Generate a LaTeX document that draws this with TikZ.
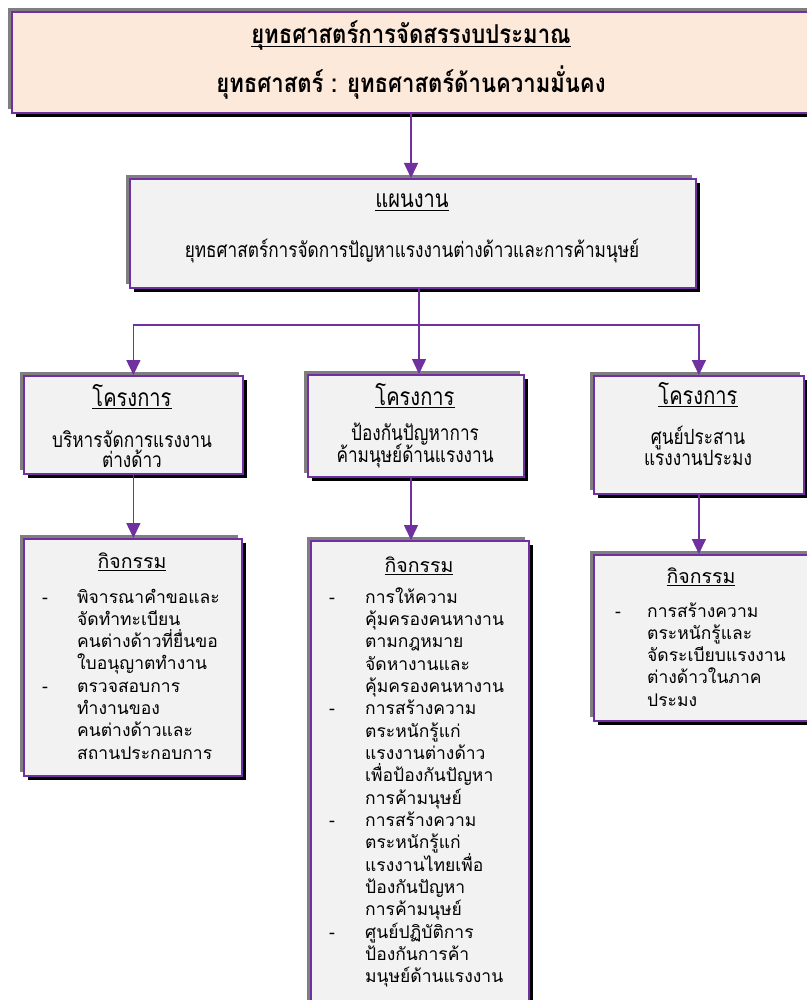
\documentclass[tikz,border=0pt]{standalone}
\usepackage{fontspec}
\newfontfamily\thai[Script=Thai]{Loma}
\newfontfamily\thaic[Script=Thai,FakeStretch=0.82]{Loma}
\newfontfamily\thait[Script=Thai,FakeStretch=0.85]{Loma}
\newcommand\thul[3]{\setbox0\hbox{#3}\rlap{\rule[-#1]{\wd0}{#2}}\box0}
\usetikzlibrary{arrows.meta,shadows}
\definecolor{pur}{HTML}{7030A0}
\definecolor{peach}{HTML}{FDE9D9}
\definecolor{boxfill}{HTML}{F2F2F2}
\definecolor{edgegray}{HTML}{7F7F7F}
\tikzset{
  panel/.style={draw=pur, line width=1.8pt, fill=boxfill, inner sep=0pt, anchor=north west,
    general shadow={shadow xshift=4.5pt, shadow yshift=-4.5pt, fill=black},
    general shadow={shadow xshift=-3.5pt, shadow yshift=3.5pt, fill=edgegray}},
  ttl/.style={font=\thait\bfseries\fontsize{26}{30}\selectfont, inner sep=0pt, anchor=base},
  cond/.style={font=\thaic\fontsize{21}{24}\selectfont, inner sep=0pt, anchor=base},
  head/.style={font=\thaic\fontsize{24.5}{28}\selectfont, inner sep=0pt, anchor=base},
  body/.style={font=\thai\fontsize{17.5}{22}\selectfont, inner sep=0pt, anchor=base west},
  acttl/.style={font=\thai\fontsize{19.5}{24}\selectfont, inner sep=0pt, anchor=base},
  conn/.style={draw=pur, line width=1.5pt},
  arr/.style={conn, -{Triangle[length=15pt,width=14pt]}},
}
\begin{document}
\begin{tikzpicture}[x=1pt,y=-1pt]
\useasboundingbox (0,0) rectangle (806,1000);
% boxes
\node[panel, fill=peach, minimum width=820pt, minimum height=101pt] (top) at (11,11) {};
\node[panel, minimum width=566pt, minimum height=109pt] (plan) at (129,178) {};
\node[panel, minimum width=219pt, minimum height=98pt] (projL) at (23,375) {};
\node[panel, minimum width=216pt, minimum height=102pt] (projM) at (307,374) {};
\node[panel, minimum width=210pt, minimum height=118pt] (projR) at (593,375) {};
\node[panel, minimum width=218pt, minimum height=237pt] (actL) at (23,538) {};
\node[panel, minimum width=218pt, minimum height=480pt] (actM) at (310,540) {};
\node[panel, minimum width=240pt, minimum height=166pt] (actR) at (593,554) {};
% connectors
\coordinate (bus) at (419,325);
\coordinate (mid) at (411,0);
\coordinate (topdrop) at (411,0);
\draw[arr] (top.south -| topdrop) -- (plan.north -| topdrop);
\draw[conn] (plan.south -| bus) -- (bus);
\draw[arr] (bus) -| (projL.north);
\draw[arr] (bus) -| (projR.north);
\draw[arr] (bus) -- (bus |- projM.north);
\draw[arr] (projL.south) -- (projL.south |- actL.north);
\draw[arr] (projM.south -| mid) -- (actM.north -| mid);
\draw[arr] (projR.south) -- (projR.south |- actR.north);
% texts
\node[ttl] (t1) at (411,44) {\thul{3.5pt}{1.3pt}{ยุทธศาสตร์การจัดสรรงบประมาณ}};
\node[ttl] (t2) at (411,93) {ยุทธศาสตร์ : ยุทธศาสตร์ด้านความมั่นคง};
\node[head] (p1) at (412,208) {\thul{3pt}{1.2pt}{แผนงาน}};
\node[cond] (p2) at (412,258) {ยุทธศาสตร์การจัดการปัญหาแรงงานต่างด้าวและการค้ามนุษย์};
\node[head] (l1) at (132,406) {\thul{3pt}{1.2pt}{โครงการ}};
\node[cond] (l2) at (132,447) {บริหารจัดการแรงงาน};
\node[cond] (l3) at (132,467) {ต่างด้าว};
\node[head] (m1) at (415,405) {\thul{3pt}{1.2pt}{โครงการ}};
\node[cond] (m2) at (415,440) {ป้องกันปัญหาการ};
\node[cond] (m3) at (415,462) {ค้ามนุษย์ด้านแรงงาน};
\node[head] (r1) at (698,404) {\thul{3pt}{1.2pt}{โครงการ}};
\node[cond] (r2) at (698,444) {ศูนย์ประสาน};
\node[cond] (r3) at (698,465) {แรงงานประมง};
\node[acttl] (aL) at (132,568) {\thul{3pt}{1.1pt}{กิจกรรม}};
\node[acttl] (aM) at (419,572) {\thul{3pt}{1.1pt}{กิจกรรม}};
\node[acttl] (aR) at (701,583) {\thul{3pt}{1.1pt}{กิจกรรม}};
\foreach [count=\i] \b/\t in {1/พิจารณาคำขอและ, 0/จัดทำทะเบียน, 0/คนต่างด้าวที่ยื่นขอ, 0/ใบอนุญาตทำงาน, 1/ตรวจสอบการ, 0/ทำงานของ, 0/คนต่างด้าวและ, 0/สถานประกอบการ}{
  \node[body] (Lt\i) at (77,{603+(\i-1)*22.3}) {\t};
  \ifnum\b=1 \node[body] (Ld\i) at (42,{603+(\i-1)*22.3}) {-};\fi
}
\foreach [count=\i] \b/\t in {1/การให้ความ, 0/คุ้มครองคนหางาน, 0/ตามกฎหมาย, 0/จัดหางานและ, 0/คุ้มครองคนหางาน, 1/การสร้างความ, 0/ตระหนักรู้แก่, 0/แรงงานต่างด้าว, 0/เพื่อป้องกันปัญหา, 0/การค้ามนุษย์, 1/การสร้างความ, 0/ตระหนักรู้แก่, 0/แรงงานไทยเพื่อ, 0/ป้องกันปัญหา, 0/การค้ามนุษย์, 1/ศูนย์ปฏิบัติการ, 0/ป้องกันการค้า, 0/มนุษย์ด้านแรงงาน}{
  \node[body] (Mt\i) at (365,{603+(\i-1)*22.35}) {\t};
  \ifnum\b=1 \node[body] (Md\i) at (329,{603+(\i-1)*22.35}) {-};\fi
}
\foreach [count=\i] \b/\t in {1/การสร้างความ, 0/ตระหนักรู้และ, 0/จัดระเบียบแรงงาน, 0/ต่างด้าวในภาค, 0/ประมง}{
  \node[body] (Rt\i) at (647,{617+(\i-1)*22.25}) {\t};
  \ifnum\b=1 \node[body] (Rd\i) at (615,{617+(\i-1)*22.25}) {-};\fi
}
\end{tikzpicture}
\end{document}
